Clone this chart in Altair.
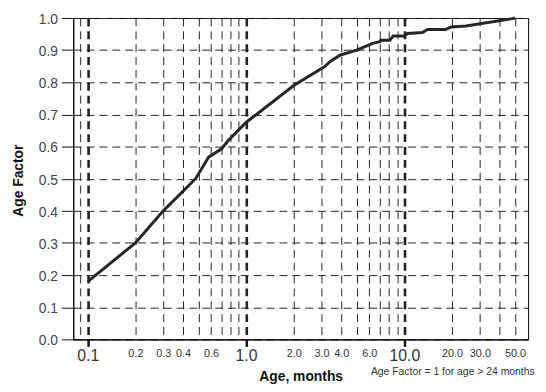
import altair as alt
import pandas as pd

# Curve values
age_months = [0.1, 0.2, 0.3, 0.48, 0.58, 0.7, 0.77, 1.0, 2.0, 3.14, 3.4, 3.95, 5.0,
              6.3, 7.0, 7.1, 8.1, 8.5, 10.0, 10.5, 13.0, 14.0, 18.2, 19.7, 24.5, 48.0, 50.0]
age_factor = [0.18, 0.30, 0.40, 0.50, 0.567, 0.593, 0.618, 0.675, 0.79, 0.849, 0.865, 0.885, 0.90,
              0.921, 0.926, 0.931, 0.931, 0.944, 0.944, 0.952, 0.955, 0.964, 0.964, 0.972, 0.975, 0.998, 1.0]

# Axis values
x_grid_values = [0.09, 0.1, 0.2, 0.3, 0.4, 0.5, 0.6, 0.7, 0.8, 0.9,
                 1, 2, 3, 4, 5, 6, 7, 8, 9,
                 10, 20, 30, 40, 50]
x_labeled = [0.1, 0.2, 0.3, 0.4, 0.6, 1, 2, 3, 4, 6, 10, 20, 30, 50]
x_major = [0.1, 1, 10]
y_values = [0.0, 0.1, 0.2, 0.3, 0.4, 0.5, 0.6, 0.7, 0.8, 0.9, 1.0]
note_text = "Age Factor = 1 for age > 24 months"

df = pd.DataFrame({"age": age_months, "factor": age_factor})

labeled_js = "[" + ",".join(str(v) for v in x_labeled) + "]"
major_test = " || ".join(f"datum.value == {v}" for v in x_major)

FONT = "Liberation Sans, Arial, sans-serif"

x_axis = alt.Axis(
    values=x_grid_values,
    labelExpr=f"indexof({labeled_js}, datum.value) >= 0 ? format(datum.value, '.1f') : ''",
    labelFontSize={"condition": {"test": major_test, "value": 16}, "value": 11},
    labelFont=FONT,
    labelColor="#333",
    labelBaseline="top",
    labelPadding=1,
    labelOverlap=False,
    labelFlush=False,
    tickSize=7,
    tickColor="#111",
    tickWidth={"condition": {"test": major_test, "value": 2.5}, "value": 0},
    tickOpacity={"condition": {"test": major_test, "value": 1}, "value": 0},
    grid=True,
    gridColor="#222",
    gridDash=[8, 5],
    gridWidth={"condition": {"test": major_test, "value": 2.6}, "value": 1},
    domainColor="#000",
    title="Age, months",
    titleFont=FONT,
    titleFontSize=14,
    titleFontWeight="bold",
    titleColor="#111",
    titleBaseline="alphabetic",
    titleY=42,
)

y_axis = alt.Axis(
    values=y_values,
    format=".1f",
    labelFont=FONT,
    labelFontSize=14,
    labelColor="#444",
    labelPadding=4,
    labelOffset=1.5,
    tickSize=12,
    tickColor="#111",
    grid=True,
    gridColor="#222",
    gridDash=[8, 5],
    gridWidth=1,
    domainColor="#000",
    title="Age Factor",
    titleFont=FONT,
    titleFontSize=14,
    titleFontWeight="bold",
    titleColor="#111",
    titleAngle=270,
    titleBaseline="alphabetic",
    titleX=-51,
    titleY=164,
)

line = alt.Chart(df).mark_line(color="#262626", strokeWidth=3, interpolate="linear").encode(
    x=alt.X("age:Q", scale=alt.Scale(type="log", domain=[0.081, 60.5], nice=False), axis=x_axis),
    y=alt.Y("factor:Q", scale=alt.Scale(domain=[0, 1], nice=False), axis=y_axis),
)

note = alt.Chart(pd.DataFrame({"note": [note_text]})).mark_text(
    align="left", baseline="alphabetic", font=FONT, fontSize=10.5, color="#333"
).encode(
    text="note:N",
    x=alt.value(301),
    y=alt.value(361),
)

chart = (
    alt.layer(line, note)
    .properties(
        width=460,
        height=325,
        autosize=alt.AutoSizeParams(type="none"),
        padding={"left": 66, "top": 8, "right": 10, "bottom": 43},
        background="white",
    )
    .configure_view(stroke="#000", strokeWidth=1)
)

chart.save("out.html", embed_options={"renderer": "svg", "actions": False})
